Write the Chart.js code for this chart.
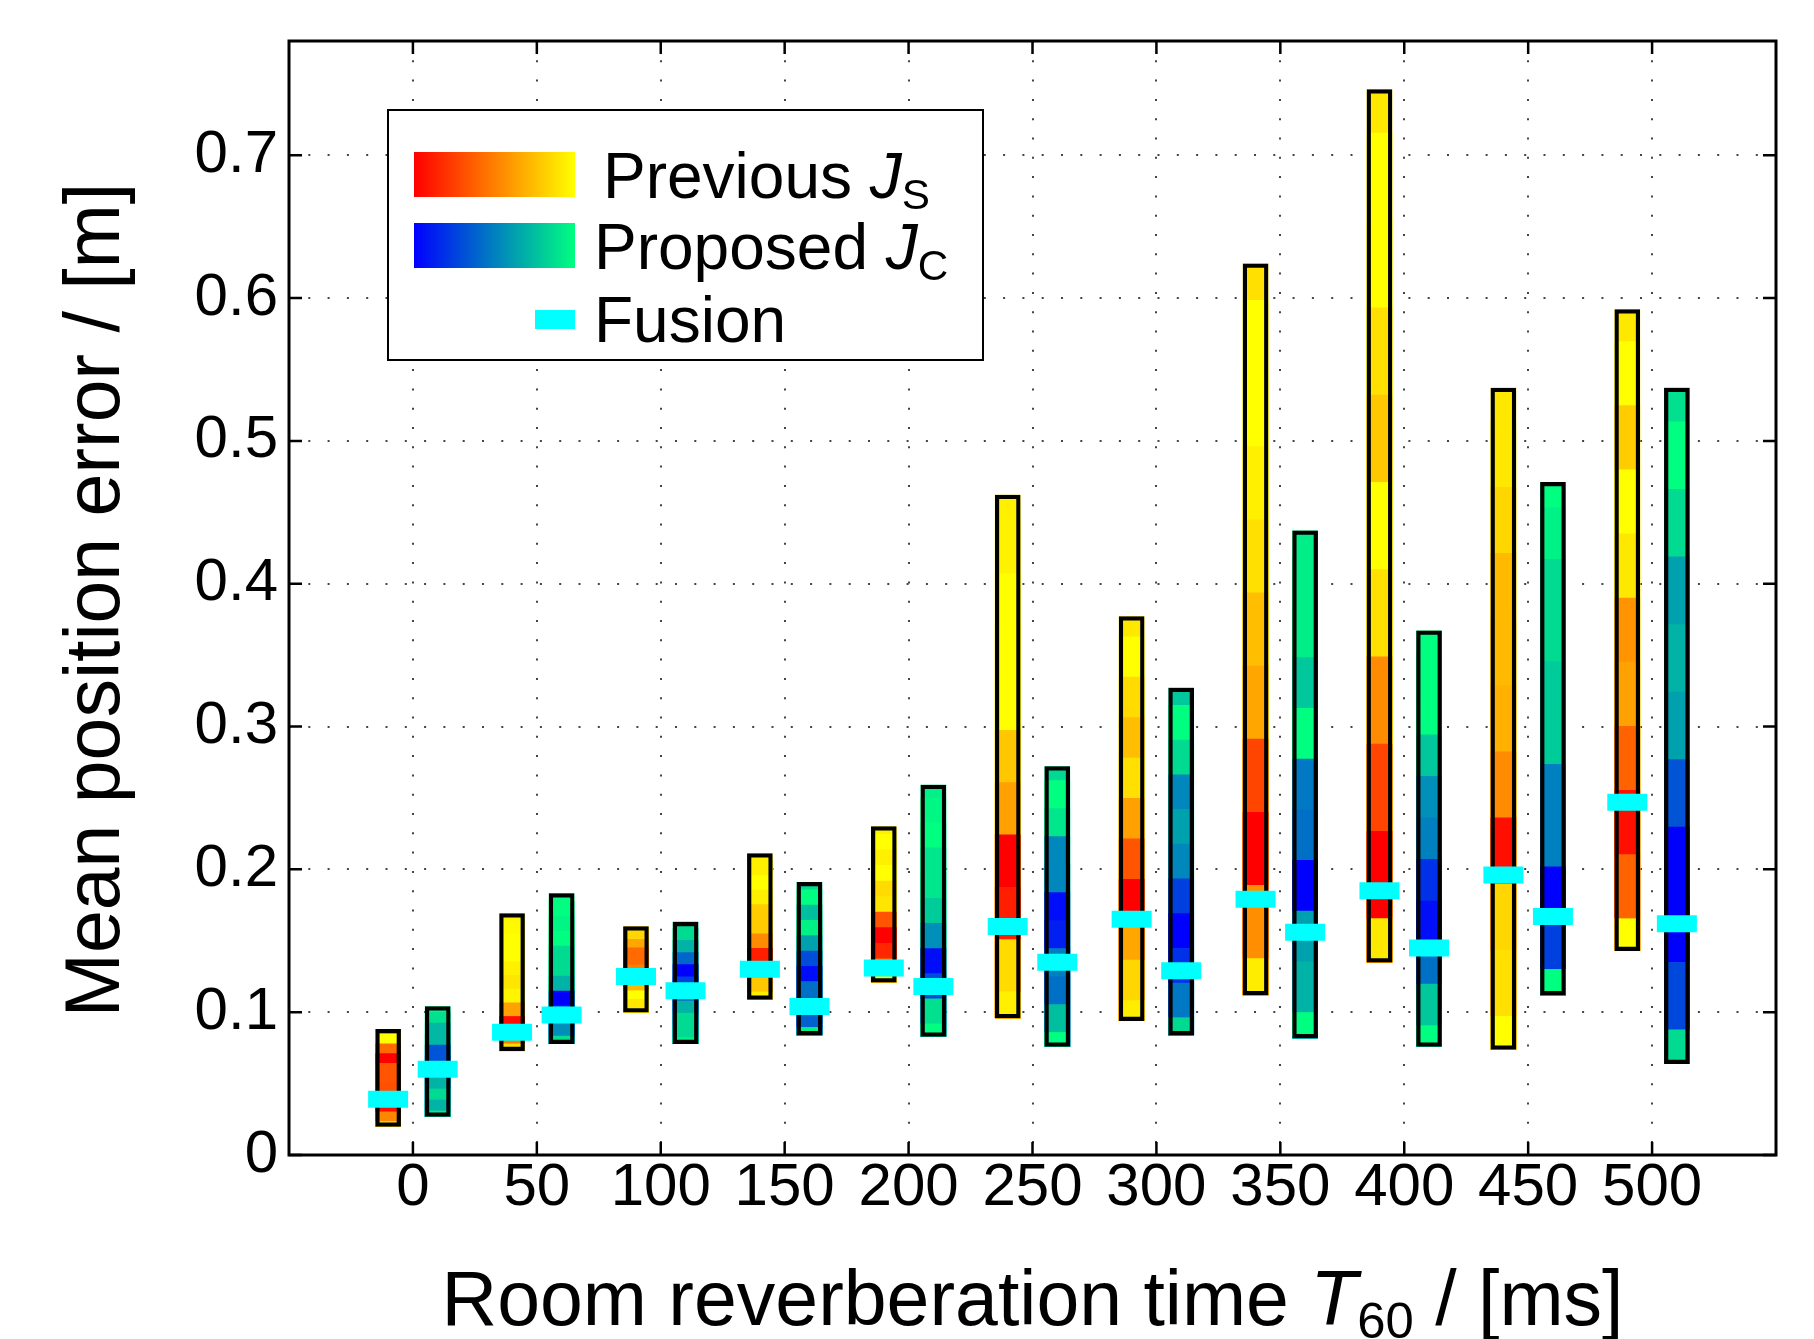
<!DOCTYPE html>
<html lang="en">
<head>
<meta charset="UTF-8">
<title>Mean position error vs T60</title>
<style>
  html, body { margin: 0; padding: 0; background: #fff; }
  #wrap { width: 1814px; height: 1339px; }
</style>
</head>
<body>
<div id="wrap"><canvas id="myChart"></canvas></div>

<script src="https://cdn.jsdelivr.net/npm/chart.js"></script>
<script>
// room reverberation time groups [ms]
const t60 = [0, 50, 100, 150, 200, 250, 300, 350, 400, 450, 500];

// previous J_S : range of the bar and fusion marker
const prevLow    = [0.020, 0.073, 0.100, 0.109, 0.121, 0.096, 0.094, 0.112, 0.135, 0.074, 0.143];
const prevHigh   = [0.088, 0.169, 0.160, 0.211, 0.230, 0.462, 0.377, 0.624, 0.746, 0.537, 0.592];
const prevFusion = [0.039, 0.086, 0.125, 0.130, 0.131, 0.160, 0.165, 0.179, 0.185, 0.196, 0.247];

// proposed J_C
const propLow    = [0.027, 0.078, 0.078, 0.084, 0.083, 0.076, 0.084, 0.082, 0.076, 0.112, 0.064];
const propHigh   = [0.104, 0.183, 0.163, 0.191, 0.259, 0.272, 0.327, 0.437, 0.367, 0.471, 0.537];
const propFusion = [0.060, 0.098, 0.115, 0.104, 0.118, 0.135, 0.129, 0.156, 0.145, 0.167, 0.162];

// colour level (0..1) of the 11 rows of each bar, bottom to top
const prevShade = [
  [0.88, 0.53, 0.05, 0.25, 0.31, 0.33, 0.33, 0.00, 0.42, 1.00, 0.80],
  [0.87, 0.50, 0.05, 0.63, 0.96, 0.90, 0.94, 1.00, 1.00, 0.98, 0.94],
  [0.91, 0.91, 1.00, 0.72, 0.60, 0.50, 0.42, 0.42, 0.65, 0.84, 0.84],
  [0.93, 0.78, 0.40, 0.12, 0.55, 0.80, 0.80, 0.94, 1.00, 0.94, 0.94],
  [1.00, 0.50, 0.15, 0.00, 0.33, 0.90, 0.86, 1.00, 0.94, 1.00, 0.94],
  [0.94, 0.86, 0.12, 0.00, 0.63, 0.78, 1.00, 1.00, 1.00, 0.95, 0.94],
  [0.93, 0.84, 0.65, 0.00, 0.33, 0.63, 0.88, 0.75, 0.86, 1.00, 0.91],
  [0.93, 0.56, 0.00, 0.27, 0.65, 0.75, 0.88, 0.94, 1.00, 1.00, 0.88],
  [0.91, 0.00, 0.27, 0.55, 0.88, 1.00, 0.78, 0.88, 1.00, 1.00, 0.91],
  [1.00, 0.88, 0.84, 0.06, 0.55, 0.69, 0.73, 0.73, 0.84, 0.91, 0.91],
  [1.00, 0.39, 0.06, 0.39, 0.63, 0.58, 0.91, 1.00, 0.80, 1.00, 0.91]
];
const propShade = [
  [0.92, 0.70, 0.86, 0.70, 0.50, 0.33, 0.33, 0.72, 0.72, 0.88, 1.00],
  [0.88, 0.56, 0.30, 0.00, 0.70, 0.86, 0.86, 1.00, 0.96, 1.00, 1.00],
  [0.95, 0.86, 0.86, 0.70, 0.40, 0.25, 0.00, 0.40, 0.70, 0.86, 0.86],
  [0.95, 0.38, 0.40, 0.44, 0.05, 0.30, 0.63, 0.95, 0.75, 1.00, 0.86],
  [1.00, 0.88, 0.30, 0.05, 0.56, 0.80, 0.90, 0.90, 1.00, 0.97, 0.95],
  [1.00, 0.75, 0.44, 0.50, 0.12, 0.05, 0.53, 0.53, 0.90, 1.00, 0.85],
  [0.86, 0.47, 0.19, 0.00, 0.25, 0.53, 0.63, 0.53, 0.86, 1.00, 0.78],
  [1.00, 0.70, 0.63, 0.00, 0.44, 0.47, 1.00, 0.78, 0.93, 0.93, 0.93],
  [1.00, 0.78, 0.44, 0.06, 0.19, 0.50, 0.56, 0.78, 1.00, 1.00, 1.00],
  [1.00, 0.25, 0.00, 0.50, 0.50, 0.80, 0.80, 0.86, 0.86, 0.95, 1.00],
  [0.86, 0.28, 0.00, 0.00, 0.33, 0.63, 0.70, 0.63, 0.86, 1.00, 0.88]
];

const FONT = '"Liberation Sans", Arial, Helvetica, sans-serif';
const ROWS = 11;

// matlab autumn / winter colormaps
function autumn(t) { return 'rgb(255,' + Math.round(255 * t) + ',0)'; }
function winter(t) { return 'rgb(0,' + Math.round(255 * t) + ',' + Math.round(255 * (1 - t / 2)) + ')'; }

const barCommon = {
    type: 'bar',
    barThickness: 25,
    grouped: false,
    borderSkipped: false
};

// each row k covers [low, centre_k + step/2]; lower rows are drawn on top so no seams show
function rowSets(low, high, shade, shift, cmap) {
    let sets = [];
    for (let k = 0; k < ROWS; k++) {
        sets.push(Object.assign({}, barCommon, {
            data: t60.map((t, i) => {
                let step = (high[i] - low[i]) / (ROWS - 1);
                return { x: t + shift, y: [low[i], Math.min(high[i], low[i] + (k + 0.5) * step)] };
            }),
            backgroundColor: shade.map(s => cmap(s[k])),
            borderWidth: 0,
            order: 10 + k
        }));
    }
    return sets;
}

function outlineSet(low, high, shift) {
    return Object.assign({}, barCommon, {
        data: t60.map((t, i) => ({ x: t + shift, y: [low[i], high[i]] })),
        backgroundColor: 'rgba(0,0,0,0)',
        borderColor: '#000',
        borderWidth: 3.6,
        order: 1
    });
}

function fusionSet(vals, shift) {
    return {
        type: 'scatter',
        data: t60.map((t, i) => ({ x: t + shift, y: vals[i] })),
        pointStyle: 'line',
        pointRadius: 20,
        pointBorderWidth: 17,
        pointBorderColor: '#00ffff',
        pointBackgroundColor: '#00ffff',
        order: 0
    };
}

let datasets = [].concat(
    rowSets(prevLow, prevHigh, prevShade, -10, autumn),
    rowSets(propLow, propHigh, propShade, 10, winter),
    [outlineSet(prevLow, prevHigh, -10), outlineSet(propLow, propHigh, 10)],
    [fusionSet(prevFusion, -10), fusionSet(propFusion, 10)]
);

// text with italic letters and subscripts
function richWidth(ctx, parts, size) {
    let w = 0;
    parts.forEach(p => {
        let s = p.sub ? size * 0.66 : size;
        ctx.font = (p.italic ? 'italic ' : '') + s + 'px ' + FONT;
        w += ctx.measureText(p.text).width;
    });
    return w;
}
function drawRich(ctx, parts, x, y, size, align) {
    let w = richWidth(ctx, parts, size);
    let cx = align === 'center' ? x - w / 2 : x;
    ctx.textAlign = 'left';
    ctx.textBaseline = 'alphabetic';
    parts.forEach(p => {
        let s = p.sub ? size * 0.66 : size;
        ctx.font = (p.italic ? 'italic ' : '') + s + 'px ' + FONT;
        ctx.fillText(p.text, cx, y + (p.sub ? size * 0.17 : 0));
        cx += ctx.measureText(p.text).width;
    });
}

const decorations = {
    id: 'decorations',
    afterDraw(chart) {
        const ctx = chart.ctx;
        const a = chart.chartArea;
        const xs = chart.scales.x, ys = chart.scales.y;
        ctx.save();

        // box and inward ticks
        ctx.strokeStyle = '#000';
        ctx.lineWidth = 3;
        ctx.strokeRect(a.left, a.top, a.right - a.left, a.bottom - a.top);
        ctx.lineWidth = 2.5;
        ctx.beginPath();
        xs.ticks.forEach(t => {
            let px = xs.getPixelForValue(t.value);
            ctx.moveTo(px, a.bottom); ctx.lineTo(px, a.bottom - 13);
            ctx.moveTo(px, a.top); ctx.lineTo(px, a.top + 13);
        });
        ys.ticks.forEach(t => {
            let py = ys.getPixelForValue(t.value);
            ctx.moveTo(a.left, py); ctx.lineTo(a.left + 13, py);
            ctx.moveTo(a.right, py); ctx.lineTo(a.right - 13, py);
        });
        ctx.stroke();

        // legend
        ctx.fillStyle = '#fff';
        ctx.fillRect(388, 110, 595, 250);
        ctx.lineWidth = 2;
        ctx.strokeRect(388, 110, 595, 250);

        let g1 = ctx.createLinearGradient(414, 0, 575, 0);
        g1.addColorStop(0, autumn(0)); g1.addColorStop(1, autumn(1));
        ctx.fillStyle = g1;
        ctx.fillRect(414, 152, 161, 45);
        let g2 = ctx.createLinearGradient(414, 0, 575, 0);
        g2.addColorStop(0, winter(0)); g2.addColorStop(0.5, winter(0.5)); g2.addColorStop(1, winter(1));
        ctx.fillStyle = g2;
        ctx.fillRect(414, 223, 161, 45);
        ctx.fillStyle = '#00ffff';
        ctx.fillRect(535, 310, 40, 19);

        ctx.fillStyle = '#000';
        drawRich(ctx, [{ text: 'Previous ' }, { text: 'J', italic: true }, { text: 'S', sub: true }], 603, 198, 64, 'left');
        drawRich(ctx, [{ text: 'Proposed ' }, { text: 'J', italic: true }, { text: 'C', sub: true }], 594, 269, 64, 'left');
        drawRich(ctx, [{ text: 'Fusion' }], 594, 342, 64, 'left');

        // axis titles
        drawRich(ctx, [
            { text: 'Room reverberation time ' }, { text: 'T', italic: true },
            { text: '60', sub: true }, { text: ' / [ms]' }
        ], (a.left + a.right) / 2, 1325, 77, 'center');

        ctx.translate(119, 600);
        ctx.rotate(-Math.PI / 2);
        drawRich(ctx, [{ text: 'Mean position error / [m]' }], 0, 0, 77, 'center');

        ctx.restore();
    }
};

const ctx = document.getElementById('myChart');

let options = {
    responsive: false,
    animation: false,
    events: [],
    layout: { padding: { top: 38, right: 38, left: 0, bottom: 0 } },
    plugins: { legend: { display: false }, tooltip: { enabled: false } },
    scales: {
        x: {
            type: 'linear',
            min: -50,
            max: 550,
            offset: false,
            afterBuildTicks: s => { s.ticks = s.ticks.filter(t => t.value >= 0 && t.value <= 500); },
            afterFit: s => { s.height = 184; },
            ticks: {
                stepSize: 50,
                autoSkip: false,
                maxRotation: 0,
                padding: 3,
                color: '#000',
                font: { family: FONT, size: 60, lineHeight: 1 }
            },
            grid: { offset: false, drawTicks: false, color: '#444', lineWidth: 2 },
            border: { display: false, dash: [2, 17.3] }
        },
        y: {
            min: 0,
            max: 0.78,
            afterBuildTicks: s => { s.ticks = s.ticks.filter(t => t.value <= 0.7001); },
            afterFit: s => { s.width = 289; },
            ticks: {
                stepSize: 0.1,
                includeBounds: false,
                padding: 11,
                color: '#000',
                font: { family: FONT, size: 60, lineHeight: 1 },
                callback: v => String(Math.round(v * 10) / 10)
            },
            grid: { drawTicks: false, color: '#444', lineWidth: 2 },
            border: { display: false, dash: [2, 17.3] }
        }
    }
};

ctx.width = 1814;
ctx.height = 1339;

let chart = new Chart(ctx, {
    type: 'bar',
    data: { datasets: datasets },
    options: options,
    plugins: [decorations]
});
</script>
</body>
</html>
